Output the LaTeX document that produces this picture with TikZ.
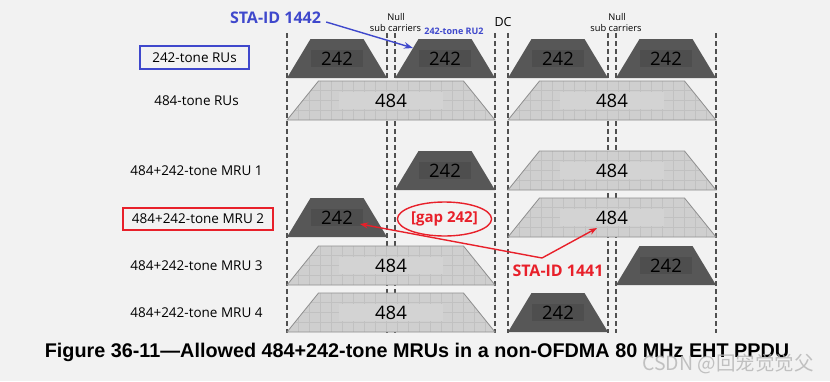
\documentclass[tikz,border=0pt]{standalone}
\usepackage{fontspec}
\setmainfont{Open Sans}
\newfontfamily\titlefont{Liberation Sans}
\newfontfamily\cjkfont{Noto Sans CJK SC}
\usetikzlibrary{arrows.meta,calc,shapes.geometric}
\definecolor{bg}{HTML}{F2F2F2}
\definecolor{dk}{HTML}{575757}
\definecolor{dkin}{HTML}{4E4E4E}
\definecolor{lt}{HTML}{CFCFCF}
\definecolor{ltin}{HTML}{D3D3D3}
\definecolor{ltgrid}{HTML}{C1C1C1}
\definecolor{ltedge}{HTML}{8E8E8E}
\definecolor{dashcol}{HTML}{505050}
\definecolor{myblue}{HTML}{3F48CC}
\definecolor{myred}{HTML}{E8202A}
\definecolor{wmcol}{HTML}{B4B4B4}
\tikzset{
  rowlabel/.style={font=\fontsize{13.5}{16}\selectfont, text=black, inner sep=0pt},
  num/.style={font=\fontsize{18.5}{20}\selectfont, inner sep=0pt},
  smalltxt/.style={font=\fontsize{9.3}{10}\selectfont, inner sep=0pt},
  sepline/.style={draw=dashcol, line width=1.2pt, dash pattern=on 5pt off 3pt},
  bluebox/.style={draw=myblue, line width=1.4pt, minimum width=109pt, minimum height=23pt, inner sep=0pt},
  redbox/.style={draw=myred, line width=1.4pt, minimum width=150pt, minimum height=22pt, inner sep=0pt},
  bluearrow/.style={draw=myblue, line width=1.4pt, -{Stealth[length=9pt,width=6.5pt]}},
  redarrow/.style={draw=myred, line width=1.4pt, -{Stealth[length=8pt,width=6pt]}},
}
% #1 left, #2 right, #3 top, #4 name
\newcommand\DarkTrap[4]{%
  \fill[dk] (#1,#3+39) -- (#1+23.5,#3) -- (#2-23.5,#3) -- (#2,#3+39) -- cycle;
  \fill[dkin] ({(#1+#2)/2-26},#3+11) rectangle ({(#1+#2)/2+26},#3+28);
  \node[num] (#4) at ({(#1+#2)/2},#3+19.5) {242};
}
\newcommand\LightTrap[4]{%
  \begin{scope}
    \clip (#1,#3+39) -- (#1+31.5,#3) -- (#2-31.5,#3) -- (#2,#3+39) -- cycle;
    \fill[lt] (#1,#3-1) rectangle (#2,#3+40);
    \foreach \k in {1,...,18} {\draw[ltgrid, line width=0.8pt] (#1+\k*11,#3) -- (#1+\k*11,#3+39);}
    \foreach \k in {9,19,29} {\draw[ltgrid, line width=0.8pt] (#1,#3+\k) -- (#2,#3+\k);}
    \fill[ltin] ({(#1+#2)/2-52},#3+11) rectangle ({(#1+#2)/2+52},#3+28);
  \end{scope}
  \draw[ltedge, line width=0.8pt] (#1,#3+39) -- (#1+31.5,#3) -- (#2-31.5,#3) -- (#2,#3+39) -- cycle;
  \node[num] (#4) at ({(#1+#2)/2},#3+19.5) {484};
}
\begin{document}
\begin{tikzpicture}[x=1pt,y=-1pt]
\fill[bg] (0,0) rectangle (830,381);
\useasboundingbox (0,0) rectangle (830,381);

% separator lines
\foreach \x in {287,387,395,495,508,608,616,716} {\draw[sepline] (\x,33) -- (\x,333);}

% row 1
\DarkTrap{287}{387}{39}{d11}
\DarkTrap{395}{495}{39}{d12}
\DarkTrap{508}{608}{39}{d13}
\DarkTrap{616}{716}{39}{d14}
% row 2
\LightTrap{287}{495}{81}{l21}
\LightTrap{508}{716}{81}{l22}
% row 3
\DarkTrap{395}{495}{151}{d31}
\LightTrap{508}{716}{151}{l32}
% row 4
\DarkTrap{287}{387}{198}{d41}
\LightTrap{508}{716}{198}{l42}
% row 5
\LightTrap{287}{495}{246}{l51}
\DarkTrap{616}{716}{246}{d52}
% row 6
\LightTrap{287}{495}{293}{l61}
\DarkTrap{508}{608}{293}{d62}

% row labels
\node[rowlabel, bluebox] (r1) at (194.5,57.5) {242-tone RUs};
\node[rowlabel] (r2) at (196.5,100.5) {484-tone RUs};
\node[rowlabel] (r3) at (196.5,170.5) {484+242-tone MRU 1};
\node[rowlabel, redbox] (r4) at (198,219) {484+242-tone MRU 2};
\node[rowlabel] (r5) at (196.5,265.5) {484+242-tone MRU 3};
\node[rowlabel] (r6) at (196.5,312.5) {484+242-tone MRU 4};

% top texts
\node[smalltxt] (null1) at (396,17) {Null};
\node[smalltxt] (sub1) at (395.5,28.5) {sub carriers};
\node[smalltxt] (null2) at (617,17) {Null};
\node[smalltxt] (sub2) at (616,28.5) {sub carriers};
\node[font=\fontsize{12.5}{14}\selectfont, inner sep=0pt] (dc) at (503,22.5) {DC};
\node[font=\bfseries\fontsize{9}{10}\selectfont, text=myblue, inner sep=0pt] (ru2) at (454,31) {242-tone RU2};

% STA-ID 1442
\node[font=\bfseries\fontsize{16}{18}\selectfont, text=myblue, inner sep=0pt] (sta2) at (275.5,18) {STA-ID 1442};
\coordinate (s2a) at ($(sta2.east)+(5,4)$);
\coordinate (s2b) at ($(d12)+(-32,-10.5)$);
\draw[bluearrow] (s2a) -- (s2b);

% gap ellipse
\node[ellipse, draw=myred, line width=1.4pt, minimum width=85pt, minimum height=34pt, inner sep=0pt,
      font=\bfseries\fontsize{15}{17}\selectfont, text=myred] (gap) at (444.5,219) {[gap 242]};

% STA-ID 1441
\node[font=\bfseries\fontsize{16}{18}\selectfont, text=myred, inner sep=0pt] (sta1) at (558,271) {STA-ID 1441};
\coordinate (v) at (542,258);
\coordinate (t1) at ($(d41)+(23,6.5)$);
\coordinate (t2) at ($(l42)+(-15,10.5)$);
\draw[redarrow] (v) -- (t1);
\draw[redarrow] (v) -- (t2);

% title
\node[font=\titlefont\bfseries\fontsize{19.8}{22}\selectfont, inner sep=0pt] (title) at (417,352)
  {Figure 36-11—Allowed 484+242-tone MRUs in a non-OFDMA 80 MHz EHT PPDU};
% watermark
\node[font=\cjkfont\fontsize{19.5}{20}\selectfont, text=wmcol, opacity=0.8, inner sep=0pt] (wm) at (728,364) {CSDN @回宠觉觉父};
\end{tikzpicture}
\end{document}
